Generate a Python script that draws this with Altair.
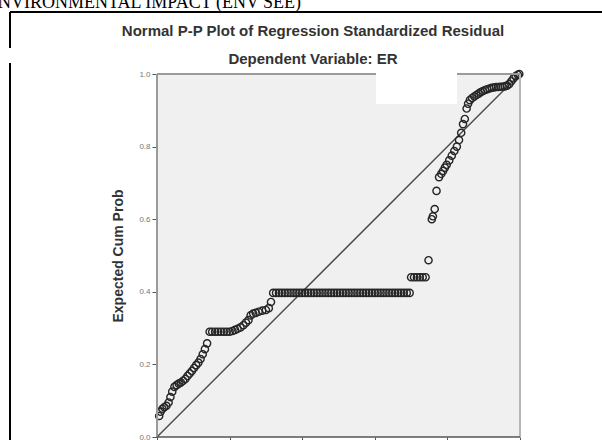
import altair as alt
import pandas as pd

# Observed / expected cumulative probabilities of the standardized residuals
obs_low = [0.006, 0.010, 0.015, 0.020, 0.026, 0.032, 0.037, 0.042, 0.048, 0.054,
           0.060, 0.066, 0.072, 0.078, 0.084, 0.090, 0.096, 0.102, 0.108, 0.114,
           0.120, 0.126, 0.132, 0.138]
exp_low = [0.058, 0.070, 0.078, 0.082, 0.086, 0.095, 0.110, 0.125, 0.138, 0.143,
           0.147, 0.150, 0.155, 0.160, 0.168, 0.175, 0.182, 0.190, 0.198, 0.205,
           0.215, 0.228, 0.242, 0.258]

obs_step1 = [0.145, 0.152, 0.160, 0.168, 0.176, 0.184, 0.192, 0.200,
             0.208, 0.215, 0.222, 0.230, 0.238, 0.245, 0.252, 0.258, 0.265,
             0.272, 0.280, 0.290, 0.300, 0.308, 0.314]
exp_step1 = [0.290, 0.290, 0.290, 0.290, 0.290, 0.290, 0.290, 0.290,
             0.292, 0.295, 0.298, 0.302, 0.308, 0.315, 0.322, 0.335, 0.340,
             0.342, 0.345, 0.348, 0.350, 0.355, 0.372]

obs_tied = [0.320, 0.328, 0.336, 0.344, 0.352, 0.360, 0.368, 0.376, 0.384, 0.392,
            0.400, 0.408, 0.416, 0.424, 0.432, 0.440, 0.448, 0.456, 0.464, 0.472,
            0.480, 0.488, 0.496, 0.504, 0.512, 0.520, 0.528, 0.536, 0.544, 0.552,
            0.560, 0.568, 0.576, 0.584, 0.592, 0.600, 0.608, 0.616, 0.624, 0.632,
            0.640, 0.648, 0.656, 0.664, 0.672, 0.680, 0.688, 0.696]
exp_tied = [0.397] * len(obs_tied)

obs_mid = [0.700, 0.708, 0.716, 0.724, 0.732, 0.740, 0.748]
exp_mid = [0.440, 0.440, 0.440, 0.440, 0.440, 0.440, 0.487]

obs_high = [0.757, 0.760, 0.765, 0.770, 0.777, 0.783, 0.788, 0.793, 0.798, 0.805,
            0.812, 0.819, 0.826, 0.832, 0.838, 0.843, 0.848, 0.853, 0.857]
exp_high = [0.600, 0.608, 0.628, 0.678, 0.716, 0.725, 0.733, 0.742, 0.750, 0.762,
            0.775, 0.788, 0.800, 0.818, 0.838, 0.862, 0.876, 0.905, 0.918]

obs_top = [0.862, 0.868, 0.874, 0.880, 0.886, 0.892, 0.898, 0.904, 0.910, 0.916,
           0.922, 0.928, 0.934, 0.940, 0.946, 0.952, 0.958, 0.964, 0.970, 0.976,
           0.982, 0.988, 0.994, 0.998]
exp_top = [0.928, 0.934, 0.938, 0.942, 0.946, 0.950, 0.953, 0.956, 0.958, 0.960,
           0.962, 0.963, 0.964, 0.964, 0.965, 0.965, 0.966, 0.968, 0.972, 0.980,
           0.988, 0.994, 0.998, 1.000]

tick_values = [0.0, 0.2, 0.4, 0.6, 0.8, 1.0]

observed = obs_low + obs_step1 + obs_tied + obs_mid + obs_high + obs_top
expected = exp_low + exp_step1 + exp_tied + exp_mid + exp_high + exp_top
points_df = pd.DataFrame({"observed": observed, "expected": expected})

W, H = 363, 363
FONT = "Liberation Sans"

x_scale = alt.Scale(domain=[0, 1], nice=False, zero=False)
y_scale = alt.Scale(domain=[0, 1], nice=False, zero=False)

base = alt.Chart(points_df)

points = base.mark_point(
    shape="circle", filled=False, size=52, stroke="#262626", strokeWidth=1.4, opacity=1
).encode(
    x=alt.X("observed:Q", scale=x_scale,
            axis=alt.Axis(values=tick_values, grid=False, domain=False, labels=False,
                          tickColor="#555", tickSize=5, title=None)),
    y=alt.Y("expected:Q", scale=y_scale,
            axis=alt.Axis(values=tick_values, format=".1f", grid=False, domain=False,
                          tickColor="#555", tickSize=5, labelFontSize=8,
                          labelColor="#777", labelFont=FONT, labelPadding=2,
                          title="Expected Cum Prob", titleFont=FONT,
                          titleFontSize=14, titleFontWeight="bold", titleColor="#333",
                          titleX=-32, titleY=H / 2)),
)

# Reference diagonal
diag = alt.Chart(pd.DataFrame({"a": [0.0], "b": [1.0]})).mark_rule(
    color="#4a4a4a", strokeWidth=1.5
).encode(
    x=alt.X("a:Q", scale=x_scale), y=alt.Y("a:Q", scale=y_scale),
    x2="b:Q", y2="b:Q",
)

# Plot frame
frame_color = "#9a9a9a"
frame_left = alt.Chart(pd.DataFrame({"k": [0]})).mark_rule(color=frame_color, strokeWidth=2).encode(
    x=alt.value(0), y=alt.value(0), y2=alt.value(H))
frame_right = alt.Chart(pd.DataFrame({"k": [0]})).mark_rule(color="#b5b5b5", strokeWidth=2).encode(
    x=alt.value(W), y=alt.value(0), y2=alt.value(H))
frame_top = alt.Chart(pd.DataFrame({"k": [0]})).mark_rule(color=frame_color, strokeWidth=2).encode(
    x=alt.value(0), x2=alt.value(W), y=alt.value(0))
frame_bottom = alt.Chart(pd.DataFrame({"k": [0]})).mark_rule(color="#555", strokeWidth=1.5).encode(
    x=alt.value(0), x2=alt.value(W), y=alt.value(H))

# Blank patch over the top right corner
patch = alt.Chart(pd.DataFrame({"k": [0]})).mark_rect(color="white").encode(
    x=alt.value(219), x2=alt.value(300), y=alt.value(-5), y2=alt.value(30))

title = alt.Chart(pd.DataFrame({"t": ["Normal P-P Plot of Regression Standardized Residual"]})).mark_text(
    font=FONT, fontSize=15, fontWeight="bold", color="#333", align="center", baseline="middle"
).encode(text="t:N", x=alt.value(156), y=alt.value(-43))

subtitle = alt.Chart(pd.DataFrame({"t": ["Dependent Variable: ER"]})).mark_text(
    font=FONT, fontSize=15, fontWeight="bold", color="#333", align="center", baseline="middle"
).encode(text="t:N", x=alt.value(156), y=alt.value(-15))

# Page frame around the figure
page_top = alt.Chart(pd.DataFrame({"k": [0]})).mark_rule(color="black", strokeWidth=2).encode(
    x=alt.value(-147), x2=alt.value(450), y=alt.value(-62))
page_left1 = alt.Chart(pd.DataFrame({"k": [0]})).mark_rule(color="black", strokeWidth=2).encode(
    x=alt.value(-147), y=alt.value(-62), y2=alt.value(-26))
page_left2 = alt.Chart(pd.DataFrame({"k": [0]})).mark_rule(color="black", strokeWidth=2).encode(
    x=alt.value(-147), y=alt.value(-11), y2=alt.value(370))

header = alt.Chart(pd.DataFrame({"t": ["ENVIRONMENTAL IMPACT (ENV SEE)"]})).mark_text(
    font="Liberation Serif", fontSize=18, color="black", align="left", baseline="alphabetic"
).encode(text="t:N", x=alt.value(-170), y=alt.value(-66))

chart = alt.layer(
    diag, points, frame_left, frame_right, frame_top, frame_bottom, patch,
    title, subtitle, page_top, page_left1, page_left2, header
).properties(
    width=W, height=H,
    autosize=alt.AutoSizeParams(type="none"),
    padding={"left": 157, "top": 74, "right": 82, "bottom": 3},
    background="white",
).configure_view(
    fill="#f0f0f0", stroke=None
)

chart.save("out.html", embed_options={"renderer": "svg", "actions": False})
